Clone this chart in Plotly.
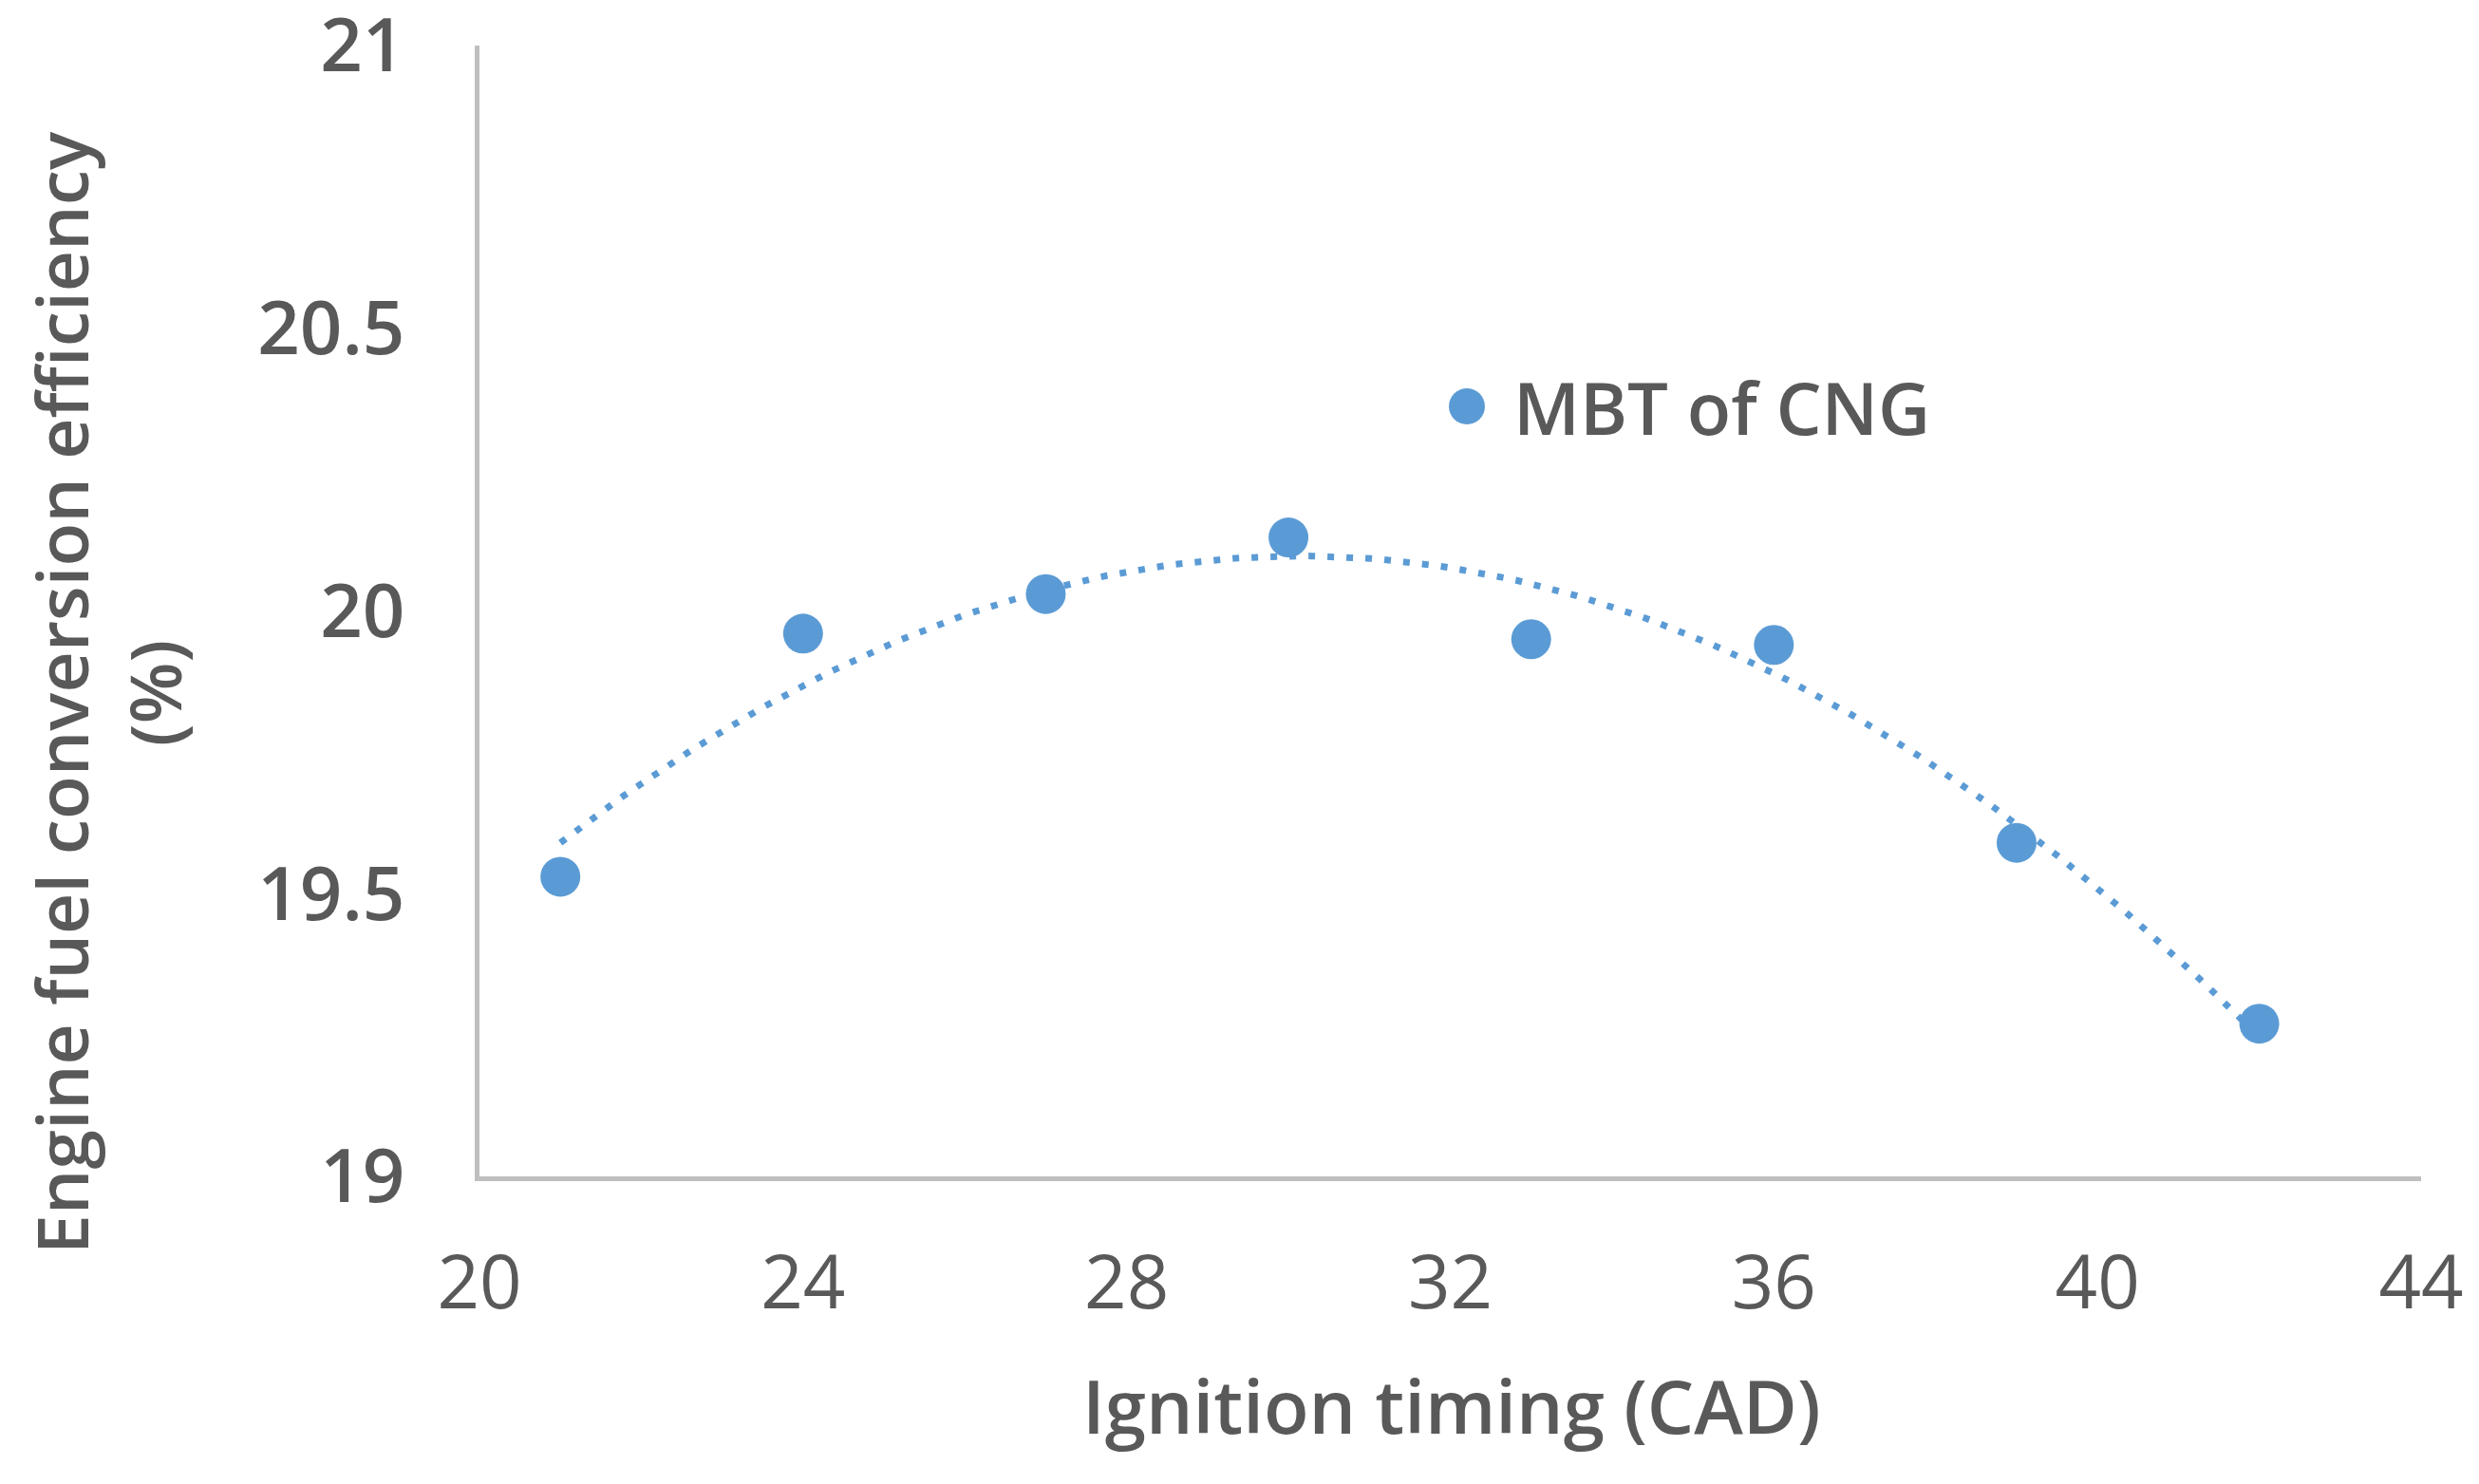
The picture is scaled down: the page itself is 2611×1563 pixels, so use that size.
import numpy as np
import plotly.graph_objects as go

# Data
ignition_timing = [21, 24, 27, 30, 33, 36, 39, 42]
efficiency = [19.53, 19.96, 20.03, 20.13, 19.95, 19.94, 19.59, 19.27]
series_name = "MBT of CNG"
y_ticks = [19, 19.5, 20, 20.5, 21]
y_tick_labels = ["19", "19.5", "20", "20.5", "21"]
x_ticks = [20, 24, 28, 32, 36, 40, 44]

# figure size (page body has 8px margin)
W, H = 2595, 1547
L, T = 497, 40
PR, PB = 2542, 1231          # plot right / bottom in figure px
R, B = W - PR, H - PB
PW, PH = PR - L, PB - T


def px(xp):
    return (xp - L) / PW


def py(yp):
    return 1 - (yp - T) / PH


BLUE = "#5B9BD5"
TXT = "#595959"
AXIS = "#BFBFBF"
FONT = "Open Sans"

# 2nd-order polynomial trendline (as in the Excel chart)
coef = np.polyfit(ignition_timing, efficiency, 2)
xt = np.linspace(min(ignition_timing), max(ignition_timing), 200)
yt = np.polyval(coef, xt)

fig = go.Figure()
fig.add_trace(go.Scatter(
    x=xt, y=yt, mode="lines",
    line=dict(color=BLUE, width=7, dash="7px,13px"),
    showlegend=False, hoverinfo="skip",
))
fig.add_trace(go.Scatter(
    x=ignition_timing, y=efficiency, mode="markers", name=series_name,
    marker=dict(color=BLUE, size=42, line=dict(width=0)),
    showlegend=False,
))

# legend glyph + text (drawn manually to get the large marker)
lg_cx, lg_cy, lg_r = 1537, 420, 19
fig.add_shape(
    type="circle", xref="paper", yref="paper",
    x0=px(lg_cx - lg_r), x1=px(lg_cx + lg_r), y0=py(lg_cy + lg_r), y1=py(lg_cy - lg_r),
    fillcolor=BLUE, line=dict(width=0),
)

fig.update_layout(
    width=W, height=H,
    margin=dict(l=L, r=R, t=T, b=B, autoexpand=False),
    paper_bgcolor="white", plot_bgcolor="white",
    showlegend=False,
    xaxis=dict(
        range=[20, 44], tickvals=x_ticks, ticks="", showgrid=False, zeroline=False,
        showline=True, linecolor=AXIS, linewidth=5,
        tickfont=dict(family=FONT, size=78, color=TXT, weight=400),
        ticklabelstandoff=40, ticklabeloverflow="allow",
    ),
    yaxis=dict(
        range=[19, 21], tickvals=y_ticks, ticktext=y_tick_labels, ticks="",
        showgrid=False, zeroline=False,
        showline=True, linecolor=AXIS, linewidth=5,
        tickfont=dict(family=FONT, size=78, color=TXT, weight=600),
        ticklabelstandoff=58, ticklabeloverflow="allow",
    ),
    annotations=[
        dict(
            text=series_name, xref="paper", yref="paper",
            x=px(1584), y=py(lg_cy),
            xanchor="left", yanchor="middle", showarrow=False,
            font=dict(family=FONT, size=76, color=TXT, weight=600),
        ),
        dict(
            text="Ignition timing (CAD)", xref="paper", yref="paper",
            x=px(1521), y=py(1472),
            xanchor="center", yanchor="middle", showarrow=False,
            font=dict(family=FONT, size=78, color=TXT, weight=600),
        ),
        dict(
            text="Engine fuel conversion efficiency<br>(%)", xref="paper", yref="paper",
            x=px(105), y=py(722),
            xanchor="center", yanchor="middle", showarrow=False, textangle=-90,
            font=dict(family=FONT, size=75, color=TXT, weight=600),
        ),
    ],
)

fig.write_html("out.html")
